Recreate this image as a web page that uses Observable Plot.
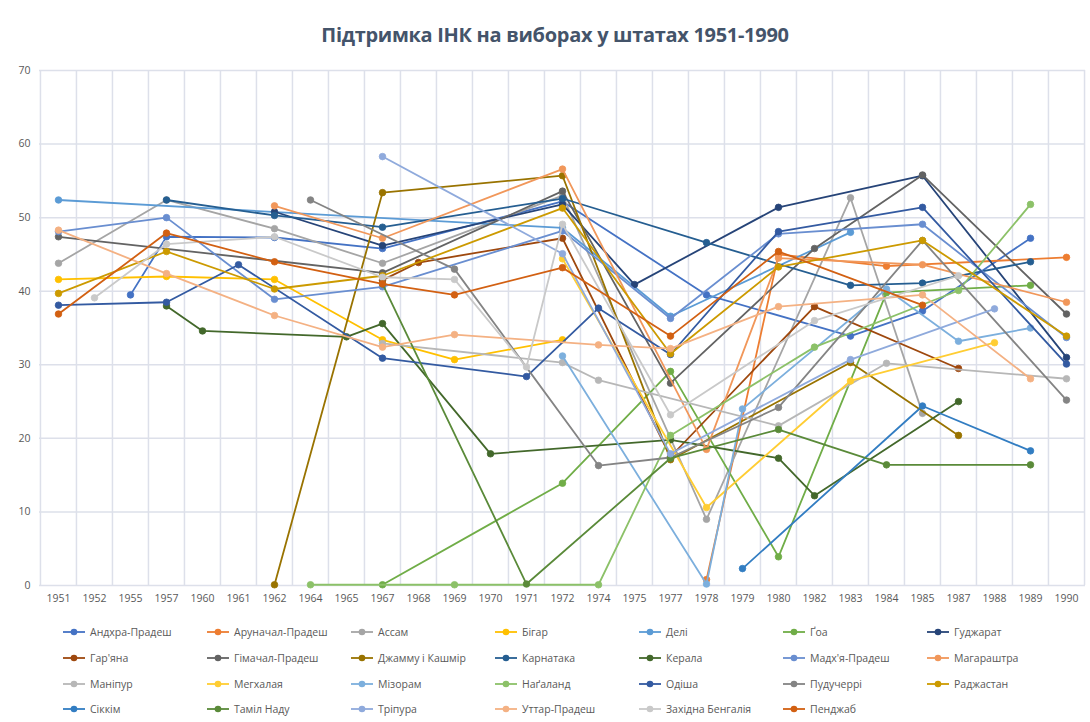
<!DOCTYPE html>
<html><head><meta charset="utf-8">
<script src="https://cdn.jsdelivr.net/npm/d3@7"></script>
<script src="https://cdn.jsdelivr.net/npm/@observablehq/plot@0.6"></script>
<style>
body{margin:0;background:#fff;font-family:"Open Sans",sans-serif;}
#wrap{position:relative;width:1090px;height:722px;overflow:hidden;}
#title{position:absolute;top:21px;left:10px;width:1090px;text-align:center;font-weight:700;font-size:20px;color:#44546A;letter-spacing:-0.3px;}
#chart{position:absolute;top:55px;left:0;}
.leg{position:absolute;display:flex;align-items:center;font-size:10.5px;color:#595959;white-space:nowrap;}
.leg svg{margin-right:4px;}
</style></head><body>
<div id="wrap">
<div id="title">Підтримка ІНК на виборах у штатах 1951-1990</div>
<div id="chart"></div>
<div id="legend"></div>
</div>
<script>
const years = ["1951","1952","1955","1957","1960","1961","1962","1964","1965","1967","1968","1969","1970","1971","1972","1974","1975","1977","1978","1979","1980","1982","1983","1984","1985","1987","1988","1989","1990"];
const yTicks = [0,10,20,30,40,50,60,70];
const _ = null;
//                      51  52  55   57  60  61  62  64  65  67  68  69  70  71  72  74  75  77  78  79  80  82  83  84  85  87  88  89  90
const andhraPradesh   = [_,  _, 39.5,47.4,_,  _, 47.3,_,  _, 45.8,_,  _,  _,  _, 52.2,_,  _,  _, 39.5,_,  _,  _, 33.9,_, 37.3,_,  _, 47.2,_];
const arunachal       = [_,  _,  _,  _,  _,  _,  _,  _,  _,  _,  _,  _,  _,  _,  _,  _,  _,  _, 0.8, _, 45.0,_,  _, 43.4,_,  _,  _,  _, 44.6];
const assam           = [43.8,_, _, 52.4,_,  _, 48.5,_,  _, 43.8,_,  _,  _,  _, 53.0,_,  _,  _, 9.0, _,  _,  _, 52.7,_, 23.4,_,  _,  _,  _];
const bihar           = [41.6,_, _, 42.0,_,  _, 41.6,_,  _, 33.4,_, 30.7,_,  _, 33.4,_,  _,  _,  _,  _,  _,  _,  _,  _,  _,  _,  _,  _,  _];
const delhi           = [52.4,_, _,  _,  _,  _,  _,  _,  _,  _,  _,  _,  _,  _, 48.6,_,  _, 36.6,_,  _,  _,  _, 48.0,_,  _,  _,  _,  _,  _];
const goa             = [_,  _,  _,  _,  _,  _,  _,  _,  _, 0.1, _,  _,  _,  _, 13.9,_,  _, 29.1,_,  _, 3.9, _,  _, 39.8,_,  _,  _, 40.8,_];
const gujarat         = [_,  _,  _,  _,  _,  _, 50.8,_,  _, 46.2,_,  _,  _,  _, 51.8,_, 40.9,_,  _,  _, 51.4,_,  _,  _, 55.7,_,  _,  _, 31.0];
const haryana         = [_,  _,  _,  _,  _,  _,  _,  _,  _, 41.5,43.9,_, _,  _, 47.2,_,  _, 17.5,_,  _,  _, 37.9,_,  _,  _, 29.5,_,  _,  _];
const himachal        = [47.4,_, _,  _,  _,  _,  _,  _,  _, 42.5,_,  _,  _,  _, 53.6,_,  _, 27.5,_,  _,  _, 45.8,_,  _, 55.8,_,  _,  _, 36.9];
const jammuKashmir    = [_,  _,  _,  _,  _,  _, 0.1, _,  _, 53.4,_,  _,  _,  _, 55.7,_,  _, 17.1,_,  _,  _,  _, 30.3,_,  _, 20.4,_,  _,  _];
const karnataka       = [_,  _,  _, 52.4,_,  _, 50.3,_,  _, 48.7,_,  _,  _,  _, 52.6,_,  _,  _, 46.6,_,  _,  _, 40.8,_, 41.1,_,  _, 44.0,_];
const kerala          = [_,  _,  _, 38.0,34.6,_, _,  _, 33.8,35.6,_,  _, 17.9,_,  _,  _,  _, 19.8,_,  _, 17.3,12.2,_,  _,  _, 25.0,_,  _,  _];
const madhyaPradesh   = [48.1,_, _, 50.0,_,  _, 38.9,_,  _, 40.6,_,  _,  _,  _, 48.2,_,  _, 36.3,_,  _, 47.8,_,  _,  _, 49.1,_,  _,  _, 33.7];
const maharashtra     = [_,  _,  _,  _,  _,  _, 51.6,_,  _, 47.2,_,  _,  _,  _, 56.6,_,  _,  _, 18.5,_, 44.5,_,  _,  _, 43.6,_,  _,  _, 38.5];
const manipur         = [_,  _,  _,  _,  _,  _,  _,  _,  _, 32.9,_,  _,  _,  _, 30.3,27.9,_, _,  _,  _, 21.7,_,  _, 30.2,_,  _,  _,  _, 28.1];
const meghalaya       = [_,  _,  _,  _,  _,  _,  _,  _,  _,  _,  _,  _,  _,  _, 44.4,_,  _,  _, 10.6,_,  _,  _, 27.8,_,  _,  _, 33.0,_,  _];
const mizoram         = [_,  _,  _,  _,  _,  _,  _,  _,  _,  _,  _,  _,  _,  _, 31.2,_,  _,  _, 0.2, 24.0,_, _,  _, 40.3,_, 33.2,_, 35.0,_];
const nagaland        = [_,  _,  _,  _,  _,  _,  _, 0.1, _,  _,  _, 0.1, _,  _,  _, 0.1, _, 20.4,_,  _,  _, 32.4,_,  _,  _, 40.1,_, 51.8,_];
const odisha          = [38.1,_, _, 38.5,_, 43.6,_,  _,  _, 30.9,_,  _,  _, 28.4,_, 37.7,_, 31.4,_,  _, 48.1,_,  _,  _, 51.4,_,  _,  _, 30.1];
const puducherry      = [_,  _,  _,  _,  _,  _,  _, 52.4,_,  _,  _, 43.0,_,  _,  _, 16.3,_, 17.4,_,  _, 24.2,_,  _,  _, 46.9,_,  _,  _, 25.2];
const rajasthan       = [39.7,_, _, 45.4,_,  _, 40.3,_,  _, 42.1,_,  _,  _,  _, 51.3,_,  _, 31.5,_,  _, 43.3,_,  _,  _, 46.9,_,  _,  _, 33.9];
const sikkim          = [_,  _,  _,  _,  _,  _,  _,  _,  _,  _,  _,  _,  _,  _,  _,  _,  _,  _,  _, 2.3, _,  _,  _,  _, 24.4,_,  _, 18.3,_];
const tamilNadu       = [_,  _,  _,  _,  _,  _,  _,  _,  _, 41.0,_,  _,  _, 0.2, _,  _,  _, 17.3,_,  _, 21.2,_,  _, 16.4,_,  _,  _, 16.4,_];
const tripura         = [_,  _,  _,  _,  _,  _,  _,  _,  _, 58.3,_,  _,  _,  _, 45.1,_,  _, 17.9,_,  _,  _,  _, 30.7,_,  _,  _, 37.6,_,  _];
const uttarPradesh    = [48.3,_, _, 42.4,_,  _, 36.7,_,  _, 32.4,_, 34.1,_,  _,  _, 32.7,_, 32.2,_,  _, 37.9,_,  _,  _, 39.5,_,  _, 28.1,_];
const westBengal      = [_, 39.1,_, 46.4,_,  _, 47.4,_,  _, 41.9,_, 41.6,_, 29.7,49.1,_,  _, 23.2,_,  _,  _, 36.0,_,  _,  _, 42.1,_,  _,  _];
const punjab          = [36.9,_, _, 47.9,_,  _, 44.0,_,  _, 41.0,_, 39.5,_,  _, 43.2,_,  _, 33.9,_,  _, 45.4,_,  _,  _, 38.1,_,  _,  _,  _];

const stateNames = ["Андхра-Прадеш","Аруначал-Прадеш","Ассам","Бігар","Делі","Ґоа","Гуджарат","Гар'яна","Гімачал-Прадеш","Джамму і Кашмір","Карнатака","Керала","Мадх'я-Прадеш","Магараштра","Маніпур","Мегхалая","Мізорам","Наґаланд","Одіша","Пудучеррі","Раджастан","Сіккім","Таміл Наду","Тріпура","Уттар-Прадеш","Західна Бенгалія","Пенджаб"];
const stateValues = [andhraPradesh,arunachal,assam,bihar,delhi,goa,gujarat,haryana,himachal,jammuKashmir,karnataka,kerala,madhyaPradesh,maharashtra,manipur,meghalaya,mizoram,nagaland,odisha,puducherry,rajasthan,sikkim,tamilNadu,tripura,uttarPradesh,westBengal,punjab];
const stateColors = ["#4472C4","#ED7D31","#A5A5A5","#FFC000","#5B9BD5","#70AD47","#264478","#9E480E","#636363","#997300","#255E91","#43682B","#698ED0","#F1975A","#B7B7B7","#FFCD33","#7CAFDD","#8CC168","#335AA1","#848484","#CC9A00","#327DC2","#5A8A39","#8FAADC","#F4B183","#C9C9C9","#D26012"];

const W = 1090, ML = 39, MR = 5, MT = 15, MB = 30, H = 560;
const step = (W - ML - MR) / years.length;
const grid = "#dde0ea";

const rows = stateNames.map((name, i) => ({
  name, color: stateColors[i],
  pts: years.map((year, j) => ({year, value: stateValues[i][j]})).filter(d => d.value != null)
}));

const marks = [
  Plot.ruleY(yTicks, {stroke: grid, strokeWidth: 1.5}),
  Plot.ruleX(years, {stroke: grid, strokeWidth: 1.5, dx: -step / 2}),
  Plot.ruleX([years[years.length - 1]], {stroke: grid, strokeWidth: 1.5, dx: step / 2})
];
for (const r of rows) {
  marks.push(Plot.line(r.pts, {x: "year", y: "value", stroke: r.color, strokeWidth: 1.8}));
  marks.push(Plot.dot(r.pts, {x: "year", y: "value", r: 3.3, fill: r.color, stroke: r.color, strokeWidth: 0.8}));
}

const chart = Plot.plot({
  width: W, height: H, marginLeft: ML, marginRight: MR, marginTop: MT, marginBottom: MB,
  style: {fontFamily: "'Open Sans', sans-serif", fontSize: "10.5px", color: "#595959", background: "white"},
  x: {type: "point", domain: years, padding: 0.5, label: null, tickSize: 0, tickPadding: 9},
  y: {domain: [0, 70], ticks: yTicks, label: null, tickSize: 0, tickPadding: 9},
  marks
});
document.getElementById("chart").appendChild(chart);

const leg = document.getElementById("legend");
const legTop = [632, 658, 684, 709], legLeft = 62, legStep = 144;
stateNames.forEach((name, i) => {
  const row = Math.floor(i / 7), col = i % 7;
  const el = document.createElement("div");
  el.className = "leg";
  el.style.left = (legLeft + col * legStep) + "px";
  el.style.top = (legTop[row] - 8) + "px";
  el.style.height = "16px";
  el.innerHTML = `<svg width="24" height="10"><line x1="1" x2="23" y1="5" y2="5" stroke="${stateColors[i]}" stroke-width="1.8"/><circle cx="12" cy="5" r="3.3" fill="${stateColors[i]}"/></svg><span>${name}</span>`;
  leg.appendChild(el);
});
</script>
</body></html>
